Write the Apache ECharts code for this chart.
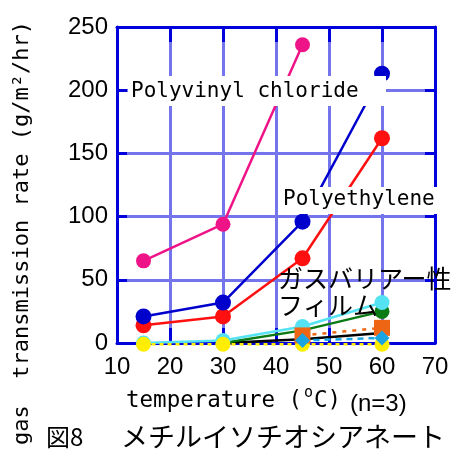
<!DOCTYPE html>
<html>
<head>
<meta charset="utf-8">
<script src="https://cdn.jsdelivr.net/npm/echarts@6/dist/echarts.min.js"></script>
<style>
html,body{margin:0;padding:0;background:#fff;}
#c{width:453px;height:454px;}
</style>
</head>
<body>
<div id="c"></div>
<script>
// temperature (°C)
const temps = [15, 30, 45, 60];
// gas transmission rate (g/m2/hr)
const pvc    = [65, 94, 236, null];
const peBlue = [21, 32, 96, 213];
const peRed  = [14, 21, 67, 162];
const cyanS  = [0, 2, 13, 32];
const greenS = [null, 0, 10, 25];
const blackS = [null, 0, 3, 8];
const orangeS= [null, null, 6, 12];
const skyS   = [null, null, 2, 4];
const yellowS= [-1, -1, -1, -1];
const xTicks = [10, 20, 30, 40, 50, 60, 70];
const yTicks = [0, 50, 100, 150, 200, 250];

function pts(arr){ return temps.map((t,i)=>[t, arr[i]]).filter(p=>p[1]!==null); }

const AX = '#0000dd';
const GRIDC = '#7474ec';

function mk(name, arr, color, symbol, size, lineType, lineColor, z){
  return {
    name, type:'line', data: pts(arr), symbol, symbolSize: size, clip:false,
    showSymbol: symbol !== 'none', z: z,
    itemStyle:{color: color},
    lineStyle:{color: lineColor || color, width: 2.5, type: lineType},
    emphasis:{disabled:true}, animation:false
  };
}

const chart = echarts.init(document.getElementById('c'), null, {renderer:'canvas'});
chart.setOption({
  animation:false,
  grid:{left:117, top:27, right:18, bottom:111},
  xAxis:[{
    type:'value', min:xTicks[0], max:xTicks[xTicks.length-1], interval:10,
    axisLine:{show:true, onZero:false, lineStyle:{color:AX, width:3}},
    axisTick:{show:true, inside:true, length:15, lineStyle:{color:AX, width:3}},
    splitLine:{show:true, lineStyle:{color:GRIDC, width:3}},
    axisLabel:{color:'#000', fontSize:24, fontFamily:'Liberation Sans', margin:12}
  },{
    type:'value', position:'top', min:xTicks[0], max:xTicks[xTicks.length-1], interval:10,
    axisLine:{show:true, onZero:false, lineStyle:{color:AX, width:3}},
    axisTick:{show:true, inside:true, length:15, lineStyle:{color:AX, width:3}},
    splitLine:{show:false}, axisLabel:{show:false}
  }],
  yAxis:[{
    type:'value', min:yTicks[0], max:yTicks[yTicks.length-1], interval:50,
    axisLine:{show:true, onZero:false, lineStyle:{color:AX, width:3}},
    axisTick:{show:true, inside:true, length:10, lineStyle:{color:AX, width:3}},
    splitLine:{show:true, lineStyle:{color:GRIDC, width:3}},
    axisLabel:{color:'#000', fontSize:24, fontFamily:'Liberation Sans', margin:9}
  },{
    type:'value', position:'right', min:yTicks[0], max:yTicks[yTicks.length-1], interval:50,
    axisLine:{show:true, onZero:false, lineStyle:{color:AX, width:3}},
    axisTick:{show:true, inside:true, length:10, lineStyle:{color:AX, width:3}},
    splitLine:{show:false}, axisLabel:{show:false}
  }],
  series:[
    mk('black', blackS, '#000000', 'none', 0, 'solid', null, 2),
    mk('green', greenS, '#0a7a14', 'circle', 15, 'solid', null, 3),
    mk('cyan', cyanS, '#55e3f3', 'circle', 15, 'solid', null, 4),
    mk('yellow', yellowS, '#ffee00', 'circle', 15, [4,4], '#ffee00', 5),
    mk('orange', orangeS, '#ee6614', 'rect', 16, [4,6], null, 6),
    mk('sky', skyS, '#1aa5e2', 'diamond', 15, [6,5], null, 7),
    mk('red', peRed, '#ff1010', 'circle', 16, 'solid', null, 8),
    mk('blue', peBlue, '#0000cc', 'circle', 16, 'solid', null, 9),
    mk('pvc', pvc, '#ee1488', 'circle', 15, 'solid', null, 10)
  ],
  graphic:[
    {type:'rect', z:100, shape:{x:128, y:76, width:258, height:30}, style:{fill:'#fff'}},
    {type:'text', z:101, x:131, y:92, style:{text:'Polyvinyl chloride', font:'21px "DejaVu Sans Mono"', fill:'#000', textVerticalAlign:'middle'}},
    {type:'rect', z:100, shape:{x:281, y:187, width:157, height:27}, style:{fill:'#fff'}},
    {type:'text', z:101, x:283, y:200, style:{text:'Polyethylene', font:'21px "DejaVu Sans Mono"', fill:'#000', textVerticalAlign:'middle'}},
    {type:'text', z:101, x:278, y:278, style:{text:'ガスバリアー性', font:'25px "Noto Sans CJK JP"', fill:'#000', textVerticalAlign:'middle'}},
    {type:'text', z:101, x:278, y:305, style:{text:'フィルム', font:'25px "Noto Sans CJK JP"', fill:'#000', textVerticalAlign:'middle'}},
    {type:'text', z:101, x:126, y:401, style:{text:'temperature (', font:'22.5px "DejaVu Sans Mono"', fill:'#000', textVerticalAlign:'middle'}},
    {type:'text', z:101, x:304, y:393, style:{text:'o', font:'15px "DejaVu Sans Mono"', fill:'#000', textVerticalAlign:'middle'}},
    {type:'text', z:101, x:314, y:401, style:{text:'C)', font:'22.5px "DejaVu Sans Mono"', fill:'#000', textVerticalAlign:'middle'}},
    {type:'text', z:101, x:350, y:404, style:{text:'(n=3)', font:'24px "Liberation Sans"', fill:'#000', textVerticalAlign:'middle'}},
    {type:'text', z:101, x:22, y:233, rotation:Math.PI/2, style:{text:'gas  transmission rate (g/m²/hr)', font:'22px "DejaVu Sans Mono"', fill:'#000', textAlign:'center', textVerticalAlign:'middle'}},
    {type:'text', z:101, x:46, y:437, style:{text:'図8', font:'24px "Noto Sans CJK JP"', fill:'#000', textVerticalAlign:'middle'}},
    {type:'text', z:101, x:121, y:437, style:{text:'メチルイソチオシアネート', font:'27px "Noto Sans CJK JP"', fill:'#000', textVerticalAlign:'middle'}}
  ]
});
</script>
</body>
</html>
